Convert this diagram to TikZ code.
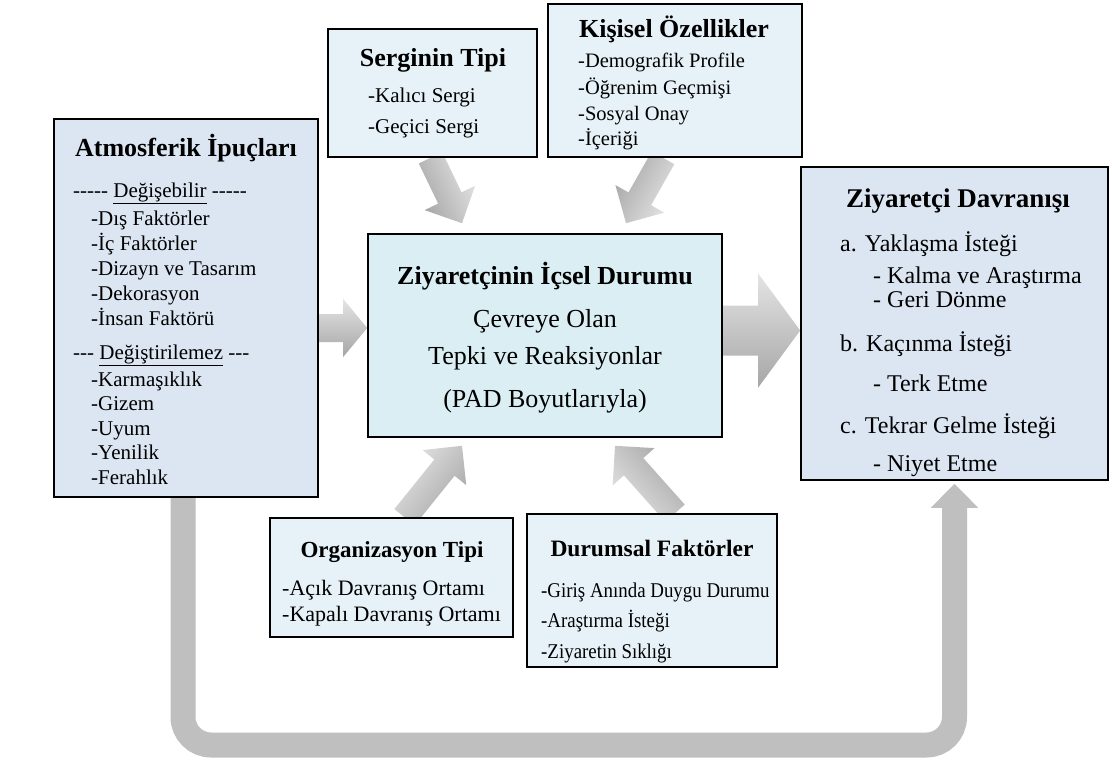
\documentclass[tikz,border=0pt]{standalone}
\usepackage{fontspec}
\setmainfont{Liberation Serif}
\newfontfamily\condfont[FakeStretch=0.9]{Liberation Serif}
\usetikzlibrary{calc,arrows.meta}
\definecolor{boxA}{HTML}{DCE6F2}
\definecolor{boxB}{HTML}{E7F2F8}
\definecolor{boxC}{HTML}{DAEEF3}
\definecolor{arrL}{HTML}{E4E4E4}
\definecolor{arrD}{HTML}{A6A6A6}
\definecolor{loopc}{HTML}{BFBFBF}
\pgfdeclarelayer{bg}
\pgfsetlayers{bg,main}
% block arrow: [shade opts]{start}{tip}{shaft half}{head half}{head length}
\newcommand\blockarrow[6][]{%
  \coordinate (ba-h) at ($(#3)!#6!(#2)$);
  \shade[#1] ($(#2)!#4!90:(#3)$) -- ($(ba-h)!#4!90:(#3)$) -- ($(ba-h)!#5!90:(#3)$) -- (#3)
     -- ($(ba-h)!#5!-90:(#3)$) -- ($(ba-h)!#4!-90:(#3)$) -- ($(#2)!#4!-90:(#3)$) -- cycle;}
\begin{document}
\begin{tikzpicture}[x=1pt,y=-1pt,
  box/.style={draw=black, line width=1.6pt, inner sep=0pt},
  txt/.style={inner sep=0pt, anchor=base west},
  ttl/.style={inner sep=0pt, anchor=base, font=\fontsize{26}{30}\selectfont\bfseries},
  fa/.style={font=\fontsize{21}{25}\selectfont},
  fk/.style={font=\fontsize{20.5}{25}\selectfont},
  fc/.style={font=\fontsize{26}{30}\selectfont},
  fz/.style={font=\fontsize{24}{28}\selectfont},
  fo/.style={font=\fontsize{22}{26}\selectfont},
  fd/.style={font=\condfont\fontsize{21}{25}\selectfont},
  garrow/.style={left color=arrL, right color=arrD},
]
\useasboundingbox (0,0) rectangle (1112,774);

% boxes
\node[box, fill=boxA, minimum width=264, minimum height=378] (atm) at (186,308) {};
\node[box, fill=boxB, minimum width=209, minimum height=128] (ser) at (432.5,93) {};
\node[box, fill=boxB, minimum width=254, minimum height=153] (kis) at (675,80.5) {};
\node[box, fill=boxC, minimum width=354, minimum height=203] (ctr) at (545,335.5) {};
\node[box, fill=boxA, minimum width=307, minimum height=313] (zd) at (954.5,323.5) {};
\node[box, fill=boxB, minimum width=243, minimum height=119] (org) at (391.5,577.5) {};
\node[box, fill=boxB, minimum width=250, minimum height=153] (dur) at (652,590.5) {};

% arrow end points
\coordinate (a1s) at ([yshift=-20pt]atm.east);
\coordinate (a1t) at (ctr.west |- a1s);
\coordinate (a2s) at ([yshift=5pt]ctr.east);
\coordinate (a2t) at (zd.west |- a2s);
\coordinate (a3s) at ([xshift=-2pt]ser.south);
\coordinate (a3t) at ([xshift=-83pt,yshift=10pt]ctr.north);
\coordinate (a4s) at ([xshift=-12pt]kis.south);
\coordinate (a4t) at ([xshift=81pt,yshift=10pt]ctr.north);
\coordinate (a5s) at ([xshift=13pt]org.north);
\coordinate (a5t) at ([xshift=-83pt,yshift=-8pt]ctr.south);
\coordinate (a6s) at ([xshift=23pt]dur.north);
\coordinate (a6t) at ([xshift=70pt,yshift=-8pt]ctr.south);
\coordinate (lps) at ([xshift=-3pt,yshift=10pt]atm.south);
\coordinate (lpb1) at (lps |- 0,745);
\coordinate (lpt) at ([yshift=-3pt]zd.south);
\coordinate (lpb2) at (lpt |- 0,745);

\begin{pgfonlayer}{bg}
\blockarrow[garrow, shading angle=0]{a1s}{a1t}{14pt}{29pt}{24pt}
\blockarrow[garrow, shading angle=0]{a2s}{a2t}{25pt}{57pt}{42pt}
\blockarrow[garrow, shading angle=-66]{a3s}{a3t}{13pt}{28pt}{28pt}
\blockarrow[garrow, shading angle=-119]{a4s}{a4t}{13pt}{28pt}{28pt}
\blockarrow[garrow, shading angle=52]{a5s}{a5t}{13pt}{28pt}{28pt}
\blockarrow[garrow, shading angle=131]{a6s}{a6t}{13pt}{28pt}{28pt}
\draw[loopc, line width=25pt, rounded corners=28pt, -{Triangle[length=24pt,width=46pt]}]
  (lps) -- (lpb1) -- (lpb2) -- (lpt);
\end{pgfonlayer}

% Atmosferik
\node[ttl] (atmT) at (186,156) {Atmosferik İpuçları};
\node[txt,fa] (atmH1) at (73,197) {-{}-{}-{}-{}- \underline{Değişebilir} -{}-{}-{}-{}-};
\node[txt,fa] (atm1) at (91,225) {-Dış Faktörler};
\node[txt,fa] (atm2) at (91,250) {-İç Faktörler};
\node[txt,fa] (atm3) at (91,275) {-Dizayn ve Tasarım};
\node[txt,fa] (atm4) at (91,300) {-Dekorasyon};
\node[txt,fa] (atm5) at (91,325) {-İnsan Faktörü};
\node[txt,fa] (atmH2) at (73,359) {-{}-{}- \underline{Değiştirilemez} -{}-{}-};
\node[txt,fa] (atm6) at (91,386) {-Karmaşıklık};
\node[txt,fa] (atm7) at (91,410) {-Gizem};
\node[txt,fa] (atm8) at (91,435) {-Uyum};
\node[txt,fa] (atm9) at (91,459) {-Yenilik};
\node[txt,fa] (atm10) at (91,484) {-Ferahlık};

% Serginin Tipi
\node[ttl] (serT) at (433,66) {Serginin Tipi};
\node[txt,fa] (ser1) at (368,102) {-Kalıcı Sergi};
\node[txt,fa] (ser2) at (368,133) {-Geçici Sergi};

% Kisisel
\node[ttl] (kisT) at (674,37) {Kişisel Özellikler};
\node[txt,fk] (kis1) at (578,67) {-Demografik Profile};
\node[txt,fk] (kis2) at (578,94) {-Öğrenim Geçmişi};
\node[txt,fk] (kis3) at (578,120) {-Sosyal Onay};
\node[txt,fk] (kis4) at (578,145) {-İçeriği};

% Center
\node[ttl] (ctrT) at (545,284) {Ziyaretçinin İçsel Durumu};
\node[inner sep=0pt, anchor=base, fc] (ctr1) at (545,327) {Çevreye Olan};
\node[inner sep=0pt, anchor=base, fc] (ctr2) at (545,364) {Tepki ve Reaksiyonlar};
\node[inner sep=0pt, anchor=base, fc] (ctr3) at (545,407) {(PAD Boyutlarıyla)};

% Ziyaretci Davranisi
\node[ttl, font=\fontsize{27}{31}\selectfont\bfseries] (zdT) at (958,207) {Ziyaretçi Davranışı};
\node[txt,fz] (zd1) at (840,251) {a. Yaklaşma İsteği};
\node[txt,fz] (zd2) at (873,283) {- Kalma ve Araştırma};
\node[txt,fz] (zd3) at (873,307) {- Geri Dönme};
\node[txt,fz] (zd4) at (840,351) {b. Kaçınma İsteği};
\node[txt,fz] (zd5) at (873,391) {- Terk Etme};
\node[txt,fz] (zd6) at (840,433) {c. Tekrar Gelme İsteği};
\node[txt,fz] (zd7) at (873,471) {- Niyet Etme};

% Organizasyon
\node[ttl, font=\fontsize{23}{27}\selectfont\bfseries] (orgT) at (392,557) {Organizasyon Tipi};
\node[txt,fo] (org1) at (282,595) {-Açık Davranış Ortamı};
\node[txt,fo] (org2) at (282,621) {-Kapalı Davranış Ortamı};

% Durumsal
\node[ttl, font=\fontsize{23.5}{27}\selectfont\bfseries] (durT) at (652,556) {Durumsal Faktörler};
\node[txt,fd] (dur1) at (541,597) {-Giriş Anında Duygu Durumu};
\node[txt,fd] (dur2) at (541,627) {-Araştırma İsteği};
\node[txt,fd] (dur3) at (541,658) {-Ziyaretin Sıklığı};
\end{tikzpicture}
\end{document}
